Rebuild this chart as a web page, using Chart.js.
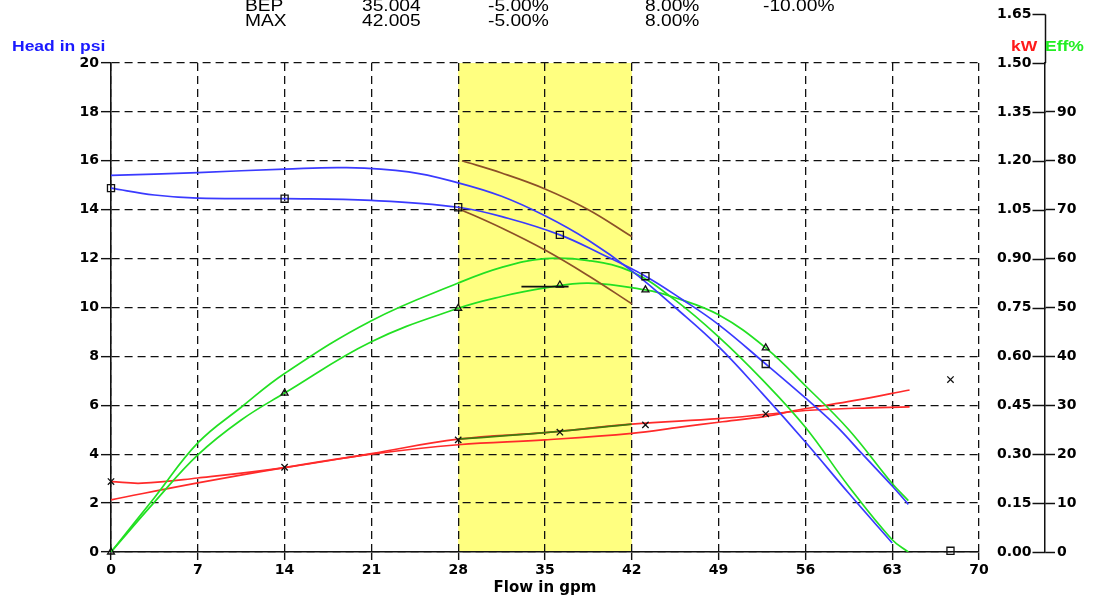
<!DOCTYPE html>
<html>
<head>
<meta charset="utf-8">
<script src="https://cdn.jsdelivr.net/npm/chart.js@4.4.0/dist/chart.umd.min.js"></script>
<style>
  body { margin: 0; background: #fff; }
  #wrap { position: relative; width: 1098px; height: 598px; overflow: hidden; }
  #chart { position: absolute; left: 0; top: 0; }
  .txt {
    position: absolute; white-space: nowrap; line-height: 16px;
    font-family: "Liberation Sans", Arial, sans-serif; font-size: 16px;
    transform-origin: left center; transform: scaleX(1.2); color: #000;
  }
  .ttl { font-weight: bold; font-size: 14px; line-height: 14px; transform: scaleX(1.25); }
</style>
</head>
<body>
<div id="wrap">
  <canvas id="chart" width="1098" height="598"></canvas>
</div>
<script>
// ---------- DATA ----------
const headerRows = [
  ["BEP", "35.004", "-5.00%", "8.00%", "-10.00%"],
  ["MAX", "42.005", "-5.00%", "8.00%"]
];

// tolerance band (flow, gpm)
const bandFrom = 28;
const bandTo = 42;
const kwTop = 1.65;

// head, psi - curve without markers
const headTestFlow = [0, 7, 14, 19, 24, 28, 31.5, 35, 38.5, 42, 45.5, 49, 52.5, 56, 59.5, 63];
const headTestPsi  = [15.4, 15.52, 15.66, 15.72, 15.55, 15.1, 14.55, 13.75, 12.75, 11.5, 10.0, 8.4, 6.5, 4.5, 2.4, 0.37];

// head, psi - curve through the measured points
const headFitFlow = [0, 3.5, 7, 14, 21, 28, 32, 36.2, 39.5, 43.1, 46, 49, 52.8, 56, 58.5, 60.6, 63, 64.3];
const headFitPsi  = [14.88, 14.6, 14.47, 14.45, 14.38, 14.1, 13.65, 12.97, 12.2, 11.28, 10.35, 9.3, 7.69, 6.3, 5.15, 4.0, 2.7, 1.95];

// efficiency, % - curve without markers
const effTestFlow = [0, 3.5, 7, 10.5, 14, 21, 28, 31.5, 35, 38.5, 42, 45.5, 49, 52.5, 56, 59.5, 63, 64.3];
const effTestPct  = [0, 11.1, 22.3, 29.6, 36.5, 47.3, 55, 58.2, 60, 59.6, 57.3, 51.5, 44, 35.3, 25.5, 13.4, 2.5, 0];

// efficiency, % - curve through the measured points
const effFitFlow = [0, 3.5, 7, 10.5, 14, 21, 28, 31.5, 35, 38.5, 43.1, 45.5, 49, 52.8, 56, 59.5, 63, 64.3];
const effFitPct  = [0, 10.2, 19.85, 27, 32.5, 43, 49.85, 52.25, 54, 55, 53.6, 52, 48.5, 41.75, 34, 25, 14, 10.5];

// power, kW - curve through the measured points
const kwFitFlow = [0, 2.5, 7, 14, 21, 28, 35, 42, 49, 52.8, 56, 60, 64.4];
const kwFitVal  = [0.216, 0.211, 0.227, 0.259, 0.302, 0.346, 0.366, 0.392, 0.409, 0.422, 0.434, 0.441, 0.445];

// power, kW - curve without markers
const kwTestFlow = [0, 7, 14, 21, 28, 35, 42, 45.9, 49, 52.8, 55.6, 60, 64.4];
const kwTestVal  = [0.160, 0.212, 0.259, 0.300, 0.329, 0.344, 0.364, 0.383, 0.398, 0.416, 0.437, 0.465, 0.497];

// tolerance limits for head inside the band
const headHiFlow = [28.3, 31.5, 35, 38.5, 42];
const headHiPsi  = [16.0, 15.5, 14.85, 14.0, 12.9];
const headLoFlow = [28, 31.5, 35, 38.5, 42];
const headLoPsi  = [14.05, 13.25, 12.35, 11.3, 10.15];

// power segment inside the band
const kwBandFlow = [28, 35, 42];
const kwBandVal  = [0.346, 0.366, 0.392];

// BEP efficiency mark
const bepFlow = [33.1, 36.9];
const bepPct  = [54.25, 54.25];

// measured points
const pointFlow = [0, 14, 28, 36.2, 43.1, 52.8, 67.7];
const pointPsi  = [14.88, 14.45, 14.1, 12.97, 11.28, 7.69, 0.05];
const pointKw   = [0.216, 0.26, 0.344, 0.3675, 0.39, 0.424, 0.529];
const effPointFlow = [0, 14, 28, 36.2, 43.1, 52.8];
const effPointPct  = [0, 32.5, 49.85, 54.6, 53.6, 41.75];

// ---------- HELPERS ----------
const pts = (xs, ys) => xs.map((x, i) => ({ x: x, y: ys[i] }));

function curve(xs, ys, color, axis, order) {
  return {
    data: pts(xs, ys), yAxisID: axis, showLine: true,
    borderColor: color, borderWidth: 1.7, pointRadius: 0,
    tension: 0.4, fill: false, order: order || 2
  };
}

function marks(xs, ys, style, axis, r) {
  return {
    data: pts(xs, ys), yAxisID: axis, showLine: false, clip: false,
    pointStyle: style, pointRadius: r, borderColor: "#111", borderWidth: 1.3,
    backgroundColor: "rgba(0,0,0,0)", order: 0
  };
}

// ---------- TEXT ----------
const wrap = document.getElementById("wrap");
const colLeft = [245, 362, 488, 645, 763];
const rowTop = [-2, 12.5];
headerRows.forEach((row, r) => {
  row.forEach((t, c) => {
    const d = document.createElement("div");
    d.className = "txt";
    d.textContent = t;
    d.style.left = colLeft[c] + "px";
    d.style.top = rowTop[r] + "px";
    wrap.appendChild(d);
  });
});

function title(text, left, color) {
  const d = document.createElement("div");
  d.className = "txt ttl";
  d.textContent = text;
  d.style.left = left + "px";
  d.style.top = "39px";
  d.style.color = color;
  wrap.appendChild(d);
}
title("Head in psi", 12, "#1a1aff");
title("kW", 1011, "#ff1a1a");
title("Eff%", 1045, "#22ee22");

// ---------- CHART ----------
const tickFont = { family: '"DejaVu Sans", sans-serif', size: 14, weight: "bold" };
const ink = "#111";

const pumpDecor = {
  id: "pumpDecor",
  beforeDraw(chart) {
    const { ctx, chartArea, scales } = chart;
    const x1 = scales.x.getPixelForValue(bandFrom);
    const x2 = scales.x.getPixelForValue(bandTo);
    ctx.save();
    ctx.fillStyle = "#ffff80";
    ctx.fillRect(x1, chartArea.top, x2 - x1, chartArea.bottom - chartArea.top);
    ctx.restore();
  },
  afterDraw(chart) {
    const { ctx, chartArea, scales } = chart;
    const kw = scales.kw;
    const axisX = scales.eff.left + 0.5;
    ctx.save();
    ctx.strokeStyle = ink;
    ctx.lineWidth = 1.5;
    // kW tick marks on the left side of the shared line
    kw.ticks.map((t) => t.value).concat([kwTop]).forEach((v) => {
      const y = Math.round(kw.getPixelForValue(v)) + 0.5;
      ctx.beginPath();
      ctx.moveTo(axisX - 13, y);
      ctx.lineTo(axisX, y);
      ctx.stroke();
    });
    // axis line goes on above the plot up to the last kW tick
    const yTop = Math.round(kw.getPixelForValue(kwTop)) + 0.5;
    ctx.beginPath();
    ctx.moveTo(axisX, chartArea.top);
    ctx.lineTo(axisX, yTop);
    ctx.stroke();
    ctx.font = 'bold 14px "DejaVu Sans", sans-serif';
    ctx.fillStyle = "#000";
    ctx.textAlign = "left";
    ctx.textBaseline = "middle";
    ctx.fillText(kwTop.toFixed(2), kw.left + 18, yTop);
    ctx.restore();
  }
};

new Chart(document.getElementById("chart"), {
  type: "scatter",
  data: {
    datasets: [
      marks(pointFlow, pointPsi, "rect", "y", 5),
      marks(effPointFlow, effPointPct, "triangle", "eff", 4),
      marks(pointFlow, pointKw, "crossRot", "kw", 4.5),
      curve(bepFlow, bepPct, "#111", "eff", 1),
      curve(kwBandFlow, kwBandVal, "#3f7a10", "kw", 1),
      curve(headHiFlow, headHiPsi, "#8c5028", "y"),
      curve(headLoFlow, headLoPsi, "#8c5028", "y"),
      curve(headTestFlow, headTestPsi, "#3a3aff", "y"),
      curve(headFitFlow, headFitPsi, "#3a3aff", "y"),
      curve(effTestFlow, effTestPct, "#22e022", "eff"),
      curve(effFitFlow, effFitPct, "#22e022", "eff"),
      curve(kwFitFlow, kwFitVal, "#ff2a2a", "kw"),
      curve(kwTestFlow, kwTestVal, "#ff2a2a", "kw"),
    ],
  },
  options: {
    responsive: false,
    animation: false,
    layout: { padding: { top: 63, left: 0, right: 0, bottom: 0 } },
    plugins: { legend: { display: false }, tooltip: { enabled: false } },
    scales: {
      x: {
        type: "linear", min: 0, max: 70,
        ticks: { stepSize: 7, color: "#000", font: tickFont, padding: 2, maxRotation: 0 },
        grid: { color: ink, lineWidth: 1.3, tickLength: 8, tickColor: ink, tickWidth: 1.4 },
        border: { display: true, color: ink, width: 1.6, dash: [8, 5] },
        title: {
          display: true, text: "Flow in gpm", color: "#000",
          font: { family: '"DejaVu Sans", sans-serif', size: 15, weight: "bold" },
          padding: { top: 0, bottom: 1 },
        },
        afterFit(s) { s.height = 46; },
      },
      y: {
        position: "left", min: 0, max: 20,
        ticks: { stepSize: 2, color: "#000", font: tickFont, padding: 2 },
        grid: { color: ink, lineWidth: 1.3, tickLength: 10, tickColor: ink, tickWidth: 1.4 },
        border: { display: true, color: ink, width: 1.6, dash: [8, 5] },
        afterFit(s) { s.width = 111; },
      },
      kw: {
        position: "right", weight: 0, min: 0, max: 1.5,
        ticks: { stepSize: 0.15, color: "#000", font: tickFont, padding: 18,
          callback: (v) => v.toFixed(2) },
        grid: { drawOnChartArea: false, drawTicks: false },
        border: { display: false },
        afterFit(s) { s.width = 66; },
      },
      eff: {
        position: "right", weight: 1, min: 0, max: 100,
        ticks: { stepSize: 10, color: "#000", font: tickFont, padding: 2,
          callback: (v) => (v <= 90 ? v : "") },
        grid: {
          drawOnChartArea: false, tickLength: 10, tickWidth: 1.5,
          tickColor: (c) => (c.tick && c.tick.value > 90 ? "rgba(0,0,0,0)" : ink),
        },
        border: { display: true, color: ink, width: 1.5 },
        afterFit(s) { s.width = 53; },
      },
    },
  },
  plugins: [pumpDecor],
});
</script>
</body>
</html>
